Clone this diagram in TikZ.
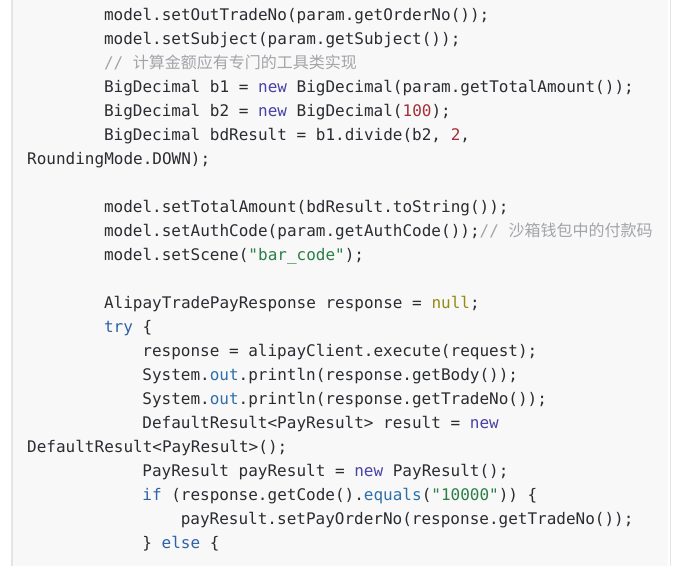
\documentclass[tikz,border=0pt]{standalone}
\usepackage{fontspec}
\newfontfamily\codefont{DejaVu Sans Mono}
\newfontfamily\cjkfont{Noto Sans CJK SC}
\definecolor{codetext}{HTML}{2A2C31}
\definecolor{codebg}{HTML}{F8F8F8}
\definecolor{codeborder}{HTML}{E4E4E4}
\definecolor{kwnew}{HTML}{4A42A6}
\definecolor{kwctl}{HTML}{2E62A6}
\definecolor{kwfld}{HTML}{2F6FA8}
\definecolor{kwnull}{HTML}{958A10}
\definecolor{numcol}{HTML}{A3303A}
\definecolor{strcol}{HTML}{2A7F48}
\definecolor{cmtcol}{HTML}{A2A4A8}
\newcommand{\kwn}[1]{\textcolor{kwnew}{#1}}
\newcommand{\kwc}[1]{\textcolor{kwctl}{#1}}
\newcommand{\kwf}[1]{\textcolor{kwfld}{#1}}
\newcommand{\kwnull}[1]{\textcolor{kwnull}{#1}}
\newcommand{\numlit}[1]{\textcolor{numcol}{#1}}
\newcommand{\strlit}[1]{\textcolor{strcol}{#1}}
\newcommand{\cmtxt}[1]{\textcolor{cmtcol}{#1}}
\begin{document}
\begin{tikzpicture}[x=1pt,y=-1pt,
    code/.style={anchor=base west,inner sep=0pt,text=codetext,
                 font=\codefont\fontsize{16}{16}\selectfont\frenchspacing}]
    \useasboundingbox (0,0) rectangle (680,566);
%    background of the code block
    \fill[white] (0,0) rectangle (680,566);
    \fill[codebg] (13,0) rectangle (668,566);
    \fill[codeborder] (11,0) rectangle (13,566);
    \fill[codeborder] (669.5,0) rectangle (671,566);

    \node[code](outtrade)  at (103.8,20)  {model.setOutTradeNo(param.getOrderNo());};
    \node[code](subject)   at (103.8,44)  {model.setSubject(param.getSubject());};
    \node[code](calc-note) at (103.8,68)  {\cmtxt{// {\cjkfont 计算金额应有专门的工具类实现}}};
    \node[code](b-one)     at (103.8,92)  {BigDecimal b1 = \kwn{new} BigDecimal(param.getTotalAmount());};
    \node[code](b-two)     at (103.8,116) {BigDecimal b2 = \kwn{new} BigDecimal(\numlit{100});};
    \node[code](bd-result) at (103.8,140) {BigDecimal bdResult = b1.divide(b2, \numlit{2},};
    \node[code](rounding)  at (27,164)    {RoundingMode.DOWN);};

    \node[code](total)     at (103.8,212) {model.setTotalAmount(bdResult.toString());};
    \node[code](authcode)  at (103.8,236) {model.setAuthCode(param.getAuthCode());\cmtxt{// {\cjkfont 沙箱钱包中的付款码}}};
    \node[code](scene)     at (103.8,260) {model.setScene(\strlit{"bar\_code"});};

    \node[code](response)  at (103.8,308) {AlipayTradePayResponse response = \kwnull{null};};
    \node[code](try-open)  at (103.8,332) {\kwc{try} \{};
    \node[code](execute)   at (142.2,356) {response = alipayClient.execute(request);};
    \node[code](body)      at (142.2,380) {System.\kwf{out}.println(response.getBody());};
    \node[code](tradeno)   at (142.2,404) {System.\kwf{out}.println(response.getTradeNo());};
    \node[code](default)   at (142.2,428) {DefaultResult<PayResult> result = \kwn{new}};
    \node[code](default-b) at (27,452)    {DefaultResult<PayResult>();};
    \node[code](payresult) at (142.2,476) {PayResult payResult = \kwn{new} PayResult();};
    \node[code](if-code)   at (142.2,500) {\kwc{if} (response.getCode().\kwf{equals}(\strlit{"10000"})) \{};
    \node[code](set-order) at (180.6,524) {payResult.setPayOrderNo(response.getTradeNo());};
    \node[code](else-open) at (142.2,548) {\} \kwc{else} \{};
    \end{tikzpicture}
\end{document}
